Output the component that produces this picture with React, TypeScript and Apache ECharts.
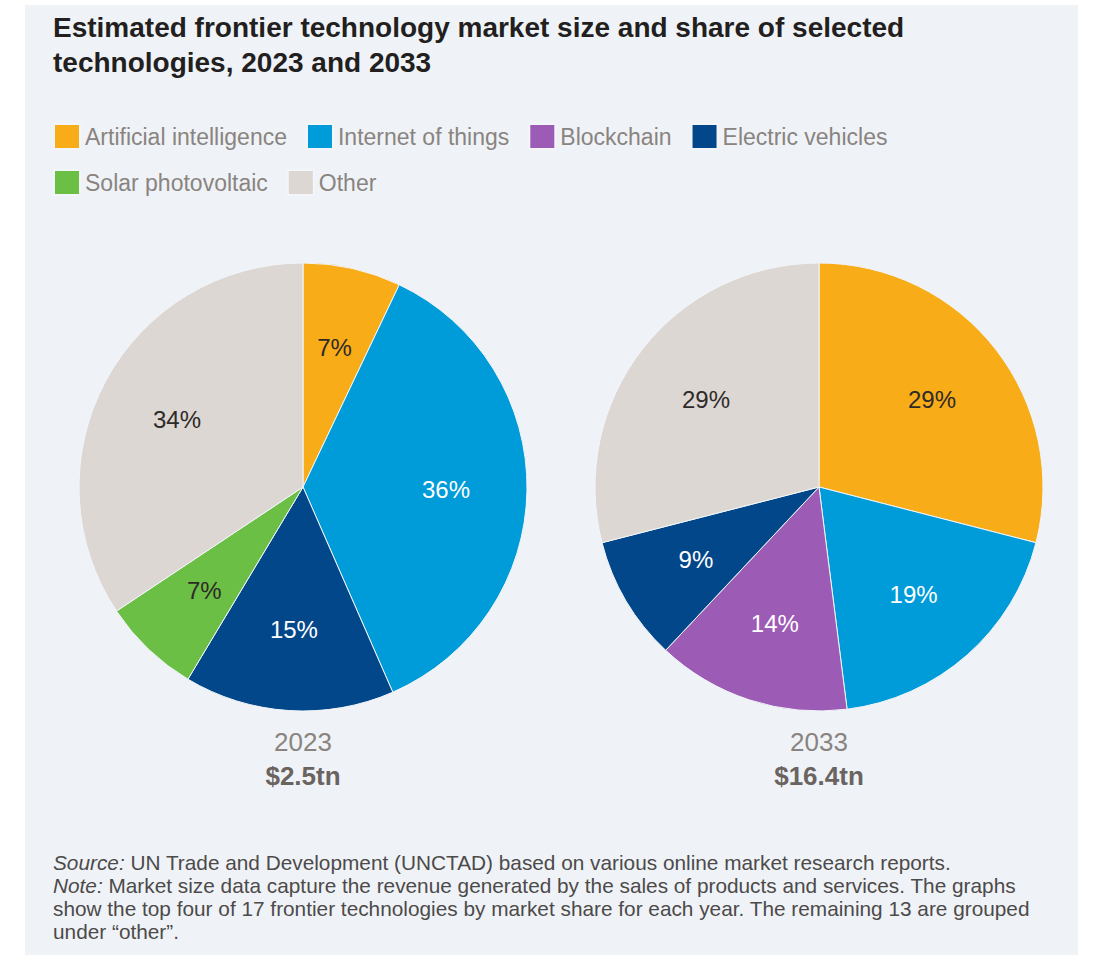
import React, { useEffect, useRef } from "react";
import * as echarts from "echarts";

const categories2023 = ["Artificial intelligence", "Internet of things", "Electric vehicles", "Solar photovoltaic", "Other"];
const values2023 = [7, 36, 15, 7, 34];
const categories2033 = ["Artificial intelligence", "Internet of things", "Blockchain", "Electric vehicles", "Other"];
const values2033 = [29, 19, 14, 9, 29];
const legendItems = ["Artificial intelligence", "Internet of things", "Blockchain", "Electric vehicles", "Solar photovoltaic", "Other"];
const yearLabels = ["2023", "2033"];
const totalLabels = ["$2.5tn", "$16.4tn"];

const colors: Record<string, string> = {
  "Artificial intelligence": "#f8ac18",
  "Internet of things": "#009bd9",
  "Blockchain": "#9c5bb4",
  "Electric vehicles": "#02478a",
  "Solar photovoltaic": "#6cbf45",
  "Other": "#dcd7d3",
};
const labelColors: Record<string, string> = {
  "Artificial intelligence": "#2e2a28",
  "Internet of things": "#ffffff",
  "Blockchain": "#ffffff",
  "Electric vehicles": "#ffffff",
  "Solar photovoltaic": "#2e2a28",
  "Other": "#2e2a28",
};

const SANS = "'Liberation Sans', Arial, Helvetica, sans-serif";

const centers = [[303, 487], [819, 487]];
const R = 224;

function pieSeries(cats: string[], vals: number[], center: number[]) {
  const main = {
    type: "pie",
    center,
    radius: [0, R],
    startAngle: 90,
    clockwise: true,
    label: { show: false },
    labelLine: { show: false },
    emphasis: { disabled: true },
    itemStyle: { borderColor: "#f2f5f9", borderWidth: 1 },
    data: cats.map((c, i) => ({ name: c, value: vals[i], itemStyle: { color: colors[c] } })),
  };
  const labels = {
    type: "pie",
    center,
    radius: [56, R],
    startAngle: 90,
    clockwise: true,
    silent: true,
    z: 5,
    labelLine: { show: false },
    emphasis: { disabled: true },
    itemStyle: { color: "transparent", borderWidth: 0 },
    label: {
      show: true,
      position: "inside",
      formatter: "{c}%",
      fontFamily: SANS,
      fontSize: 24,
    },
    data: cats.map((c, i) => ({
      name: c,
      value: vals[i],
      itemStyle: { color: "transparent" },
      label: { color: labelColors[c] },
    })),
  };
  return [main, labels];
}

export default function App() {
  const ref = useRef<HTMLDivElement>(null);
  useEffect(() => {
    if (!ref.current) return;
    const chart = echarts.init(ref.current, undefined, { renderer: "svg" });
    const graphics: any[] = [
      {
        type: "rect",
        z: -10,
        shape: { x: 25, y: 5, width: 1053, height: 950 },
        style: { fill: "#eff3f8" },
      },
    ];
    centers.forEach((c, i) => {
      graphics.push({
        type: "text",
        x: c[0],
        y: 742,
        style: { text: yearLabels[i], fontFamily: SANS, fontSize: 26, fill: "#8a8480", align: "center", verticalAlign: "middle" },
      });
      graphics.push({
        type: "text",
        x: c[0],
        y: 776,
        style: { text: totalLabels[i], fontFamily: SANS, fontSize: 26, fontWeight: "bold", fill: "#6b6360", align: "center", verticalAlign: "middle" },
      });
    });
    graphics.push({
      type: "text",
      x: 53,
      y: 851,
      style: {
        text:
          "{i|Source:} UN Trade and Development (UNCTAD) based on various online market research reports.\n" +
          "{i|Note:} Market size data capture the revenue generated by the sales of products and services. The graphs\n" +
          "show the top four of 17 frontier technologies by market share for each year. The remaining 13 are grouped\n" +
          "under \u201cother\u201d.",
        fontFamily: SANS,
        fontSize: 20.8,
        lineHeight: 23,
        fill: "#4d4a49",
        rich: { i: { fontStyle: "italic", fontFamily: SANS, fontSize: 20.8, fill: "#4d4a49", lineHeight: 23 } },
      },
    });

    chart.setOption({
      animation: false,
      backgroundColor: "#ffffff",
      title: {
        text: "Estimated frontier technology market size and share of selected\ntechnologies, 2023 and 2033",
        left: 53,
        top: 10,
        padding: 0,
        textStyle: { fontFamily: SANS, fontSize: 28, fontWeight: "bold", color: "#231f20", lineHeight: 35 },
      },
      legend: {
        left: 53,
        top: 123,
        width: 870,
        padding: 0,
        itemWidth: 26,
        itemHeight: 25,
        itemGap: 19,
        icon: "rect",
        selectedMode: false,
        data: legendItems.map((n) => ({ name: n, itemStyle: { color: colors[n] } })),
        textStyle: { fontFamily: SANS, fontSize: 23, color: "#8a8480" },
      },
      graphic: graphics,
      series: [
        ...pieSeries(categories2023, values2023, centers[0]),
        ...pieSeries(categories2033, values2033, centers[1]),
      ],
    });
    return () => chart.dispose();
  }, []);
  return <div ref={ref} style={{ position: "fixed", left: 0, top: 0, width: 1096, height: 955 }} />;
}
